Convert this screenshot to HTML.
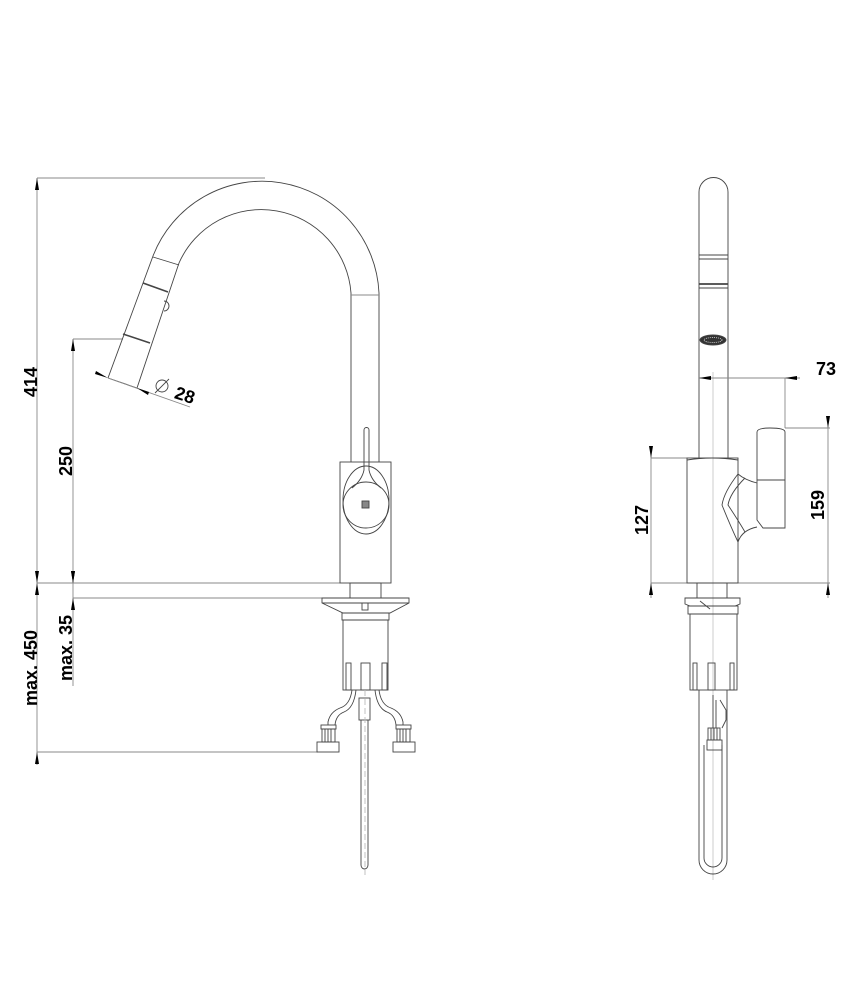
<!DOCTYPE html>
<html><head><meta charset="utf-8"><style>
html,body{margin:0;padding:0;background:#fff;}
svg{display:block;}
text{font-family:"Liberation Sans",Arial,sans-serif;font-weight:bold;font-size:18px;fill:#000;}
</style></head><body>
<svg width="855" height="1000" viewBox="0 0 855 1000" xmlns="http://www.w3.org/2000/svg">
<g fill="none" stroke="#444" stroke-width="0.9">
<!-- LEFT VIEW -->
<!-- dimension lines -->
<line x1="37" y1="178" x2="265" y2="178" stroke="#888"/>
<line x1="37" y1="178" x2="37" y2="765" stroke="#888"/>
<line x1="37" y1="583" x2="340" y2="583" stroke="#888"/>
<line x1="73" y1="339" x2="73" y2="686" stroke="#888"/>
<line x1="73" y1="339" x2="123" y2="339" stroke="#888"/>
<line x1="73" y1="598" x2="322" y2="598" stroke="#888"/>
<line x1="37" y1="752" x2="318" y2="752" stroke="#888"/>
<!-- spout -->
<path d="M108,378 L153,256 A117,117 0 0 1 379,293 L379,462"/>
<path d="M137,388 L179,263 A90,90 0 0 1 351,293 L351,462"/>
<line x1="351" y1="295" x2="379" y2="295" stroke="#888"/>
<line x1="108" y1="378" x2="137" y2="388"/>
<line x1="153" y1="257" x2="179" y2="265"/>
<line x1="143" y1="283" x2="168" y2="292" stroke-width="1.6"/>
<line x1="123" y1="334" x2="150" y2="343" stroke-width="1.6"/>
<path d="M164,301 A4,4 0 0 1 164,311"/>
<!-- dia 28 -->
<line x1="108" y1="378" x2="190" y2="407" stroke="#888"/>
<circle cx="162" cy="386" r="6"/>
<line x1="155" y1="393" x2="169" y2="379"/>
<!-- body -->
<rect x="340" y="462" width="51" height="121"/>
<ellipse cx="366" cy="500" rx="23" ry="34"/>
<circle cx="366" cy="505" r="23"/>
<path d="M364,430 L364,470 Q362,480 352,488 M369,430 L369,470 Q371,480 381,488"/>
<path d="M364,430 A2.5,2.5 0 0 1 369,430"/>
<rect x="362" y="501" width="7" height="7" fill="#888"/>
<!-- under mount -->
<rect x="350" y="583" width="31" height="15"/>
<path d="M322,598 L409,598 L409,603 L390,613 L343,613 L322,603 Z"/>
<line x1="322" y1="603" x2="409" y2="603"/>
<rect x="362" y="603" width="6" height="7"/>
<rect x="342" y="613" width="47" height="7"/>
<rect x="343" y="620" width="45" height="70"/>
<rect x="346" y="663" width="5" height="27"/><rect x="361" y="663" width="9" height="27"/><rect x="382" y="663" width="5" height="27"/>
<path d="M352,690 Q350,705 340,708 Q330,712 328,722 L328,725 M356,690 Q354,708 344,712 Q336,715 335,725"/>
<path d="M379,690 Q381,705 391,708 Q401,712 403,722 L403,725 M375,690 Q377,708 387,712 Q395,715 396,725"/>
<rect x="321" y="725" width="15" height="4"/><rect x="322" y="729" width="13" height="13"/><path d="M325,729v13M328,729v13M331,729v13"/>
<rect x="317" y="742" width="22" height="10"/>
<rect x="396" y="725" width="15" height="4"/><rect x="397" y="729" width="13" height="13"/><path d="M400,729v13M403,729v13M406,729v13"/>
<rect x="393" y="742" width="22" height="10"/>
<rect x="359" y="698" width="11" height="22"/>
<path d="M361,720 L361,865 A3.5,4 0 0 0 368,865 L368,720"/>
<line x1="365" y1="690" x2="365" y2="875" stroke="#bbb" stroke-dasharray="6,3"/>

<!-- RIGHT VIEW -->
<line x1="713" y1="372" x2="713" y2="880" stroke="#aaa" stroke-width="0.6"/>
<path d="M699,458 L699,192 A14.5,14.5 0 0 1 728,192 L728,458"/>
<line x1="699" y1="255" x2="728" y2="255"/><line x1="699" y1="259" x2="728" y2="259"/>
<line x1="699" y1="284" x2="728" y2="284" stroke-width="1.8"/><line x1="699" y1="288" x2="728" y2="288"/>
<ellipse cx="713" cy="340" rx="13" ry="5" fill="#333"/>
<ellipse cx="713" cy="340" rx="9" ry="2.5" stroke="#ccc" stroke-dasharray="1,1"/>
<line x1="699" y1="378" x2="800" y2="378" stroke="#888"/>
<line x1="785" y1="378" x2="785" y2="428" stroke="#888"/>
<line x1="785" y1="428" x2="830" y2="428" stroke="#888"/>
<line x1="828" y1="420" x2="828" y2="598" stroke="#888"/>
<line x1="651" y1="450" x2="651" y2="598" stroke="#888"/>
<line x1="651" y1="458" x2="687" y2="458" stroke="#888"/>
<line x1="651" y1="583" x2="830" y2="583" stroke="#888"/>
<path d="M757,432 Q757,428 770,428 Q785,428 785,432 L785,528 L763,528 L757,520 Z"/>
<line x1="757" y1="480" x2="785" y2="480"/>
<rect x="687" y="458" width="51" height="125"/>
<path d="M687,460 Q712,456 738,460"/>
<path d="M738,474 Q745,480 757,483 M738,542 Q742,530 757,527 M738,474 Q724,492 722,505 Q730,525 738,542"/>
<path d="M745,478 Q730,493 728,505 Q738,520 745,532"/>
<rect x="697" y="583" width="30" height="15"/>
<path d="M685,598 L740,598 L740,604 L735,606 L690,606 L685,604 Z"/>
<line x1="700" y1="601" x2="710" y2="609"/>
<rect x="688" y="606" width="50" height="8"/>
<rect x="690" y="614" width="47" height="76"/>
<rect x="693" y="663" width="4" height="27"/><rect x="708" y="663" width="7" height="27"/><rect x="730" y="663" width="4" height="27"/>
<path d="M699,690 L699,860 A14,14 0 0 0 727,860 L727,690"/>
<path d="M704,745 L704,858 A9,9 0 0 0 722,858 L722,745"/>
<rect x="708" y="728" width="12" height="12"/><path d="M711,728v12M714,728v12M717,728v12"/>
<rect x="707" y="740" width="15" height="10"/>
<path d="M713,695 L713,728 M716,700 L716,728 M720,700 L726,710 L726,720 L722,728"/>
</g>
<!-- arrowheads -->
<g fill="#000">
<path d="M37,178 l-2,12 h4 z"/><path d="M37,583 l-2,-12 h4 z"/>
<path d="M37,583 l-2,12 h4 z"/><path d="M37,752 l-2,12 h4 z"/>
<path d="M73,339 l-2,12 h4 z"/><path d="M73,583 l-2,-12 h4 z"/>
<path d="M73,598 l-2,12 h4 z"/><path d="M73,583 l-2,-12 h4 z"/>
<path d="M108,378 l-13,-4 l1,-3 z"/><path d="M137,388 l12,4 l-1,3 z"/>
<path d="M699,378 l12,-2 v4 z"/><path d="M785,378 l12,-2 v4 z"/>
<path d="M828,428 l-2,-12 h4 z"/><path d="M828,583 l-2,12 h4 z"/>
<path d="M651,458 l-2,-12 h4 z"/><path d="M651,583 l-2,12 h4 z"/>
</g>
<!-- labels -->
<text transform="translate(37,382) rotate(-90)" text-anchor="middle">414</text>
<text transform="translate(72,461) rotate(-90)" text-anchor="middle">250</text>
<text transform="translate(37,668) rotate(-90)" text-anchor="middle">max. 450</text>
<text transform="translate(72,648) rotate(-90)" text-anchor="middle">max. 35</text>
<text transform="translate(183,401) rotate(18)" text-anchor="middle">28</text>
<text x="826" y="375" text-anchor="middle">73</text>
<text transform="translate(824,505) rotate(-90)" text-anchor="middle">159</text>
<text transform="translate(648,520) rotate(-90)" text-anchor="middle">127</text>
</svg>
</body></html>
